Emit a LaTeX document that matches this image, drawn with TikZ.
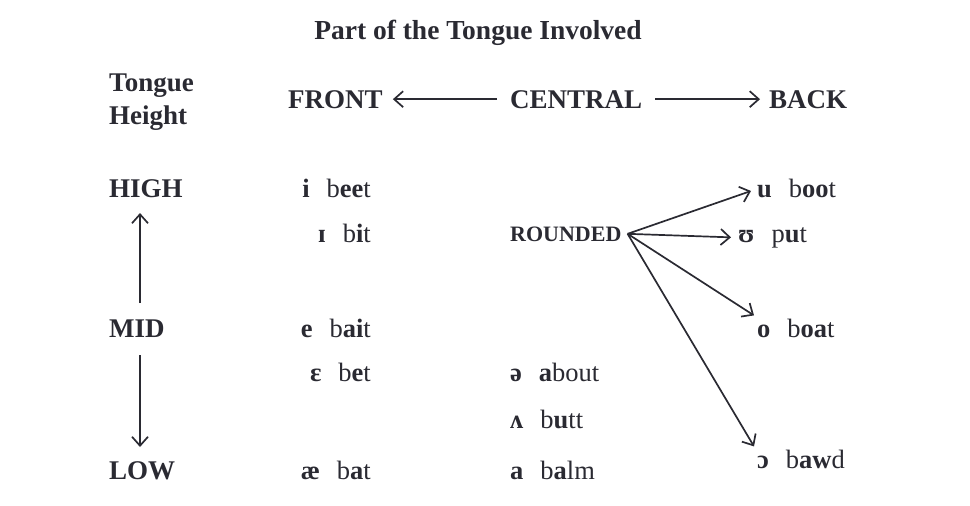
\documentclass[tikz,border=0pt]{standalone}
\usepackage{fontspec}
\setmainfont{Liberation Serif}
\usetikzlibrary{arrows.meta}
\definecolor{ink}{RGB}{42,42,50}
\begin{document}
\begin{tikzpicture}[x=1pt,y=-1pt,
  every node/.style={text=ink,inner sep=3pt},
  big/.style={font=\fontsize{27}{31}\selectfont\bfseries},
  ttl/.style={font=\fontsize{27.5}{31}\selectfont\bfseries},
  ex/.style={font=\fontsize{26.5}{30}\selectfont},
  small/.style={font=\fontsize{22}{25}\selectfont\bfseries},
  arr/.style={draw=ink,line width=1.7pt,-{Straight Barb[length=9pt,width=16pt,line width=1.7pt]}}]
\useasboundingbox (0,0) rectangle (970,506);
\newcommand{\gp}{\hspace{17pt}}
% title
\node[ttl,anchor=base] (title) at (478,39) {Part of the Tongue Involved};
% left header
\node[big,anchor=base west,inner sep=0pt] (tongue) at (109,91) {Tongue};
\node[big,anchor=base west,inner sep=0pt] (height) at (109,124) {Height};
% top headings
\node[big,anchor=base west] (front) at (285,108) {FRONT};
\node[big,anchor=base west] (central) at (507,108) {CENTRAL};
\node[big,anchor=base west] (back) at (766,108) {BACK};
\draw[arr,shorten <=10pt,shorten >=7pt] (central.west) -- (front.east);
\draw[arr,shorten <=10pt,shorten >=6pt] (central.east) -- (back.west);
% heights
\node[big,anchor=base west] (high) at (106,197) {HIGH};
\node[big,anchor=base west] (mid) at (106,337) {MID};
\node[big,anchor=base west] (low) at (106,479) {LOW};
\coordinate (u1) at (140,303);
\coordinate (u2) at (140,213);
\coordinate (d1) at (140,355);
\coordinate (d2) at (140,447);
\draw[arr] (u1) -- (u2);
\draw[arr] (d1) -- (d2);
% front
\node[ex,anchor=base east] (i) at (374,197) {\textbf{i}\gp b\textbf{ee}t};
\node[ex,anchor=base east] (ih) at (374,242) {\textbf{ɪ}\gp b\textbf{i}t};
\node[ex,anchor=base east] (e) at (374,337) {\textbf{e}\gp b\textbf{ai}t};
\node[ex,anchor=base east] (eh) at (374,381) {\textbf{ɛ}\gp b\textbf{e}t};
\node[ex,anchor=base east] (ae) at (374,479) {\textbf{æ}\gp b\textbf{a}t};
% central
\node[small,anchor=base west] (rnd) at (507,241) {ROUNDED};
\node[ex,anchor=base west] (schwa) at (507,381) {\textbf{ə}\gp \textbf{a}bout};
\node[ex,anchor=base west] (wedge) at (507,428) {\textbf{ʌ}\gp b\textbf{u}tt};
\node[ex,anchor=base west] (a) at (507,479) {\textbf{a}\gp b\textbf{a}lm};
% back
\node[ex,anchor=base west] (u) at (754,197) {\textbf{u}\gp b\textbf{oo}t};
\node[ex,anchor=base west] (uh) at (735,242) {\textbf{ʊ}\gp p\textbf{u}t};
\node[ex,anchor=base west] (o) at (754,337) {\textbf{o}\gp b\textbf{oa}t};
\node[ex,anchor=base west] (oh) at (754,468) {\textbf{ɔ}\gp b\textbf{aw}d};
\coordinate (r) at ([xshift=3pt]rnd.east);
\draw[arr] (r) -- ([xshift=-3pt,yshift=-3pt]u.west);
\draw[arr] (r) -- ([xshift=-4pt]uh.west);
\draw[arr] (r) -- (o.north west);
\draw[arr] (r) -- (oh.north west);
\end{tikzpicture}
\end{document}
